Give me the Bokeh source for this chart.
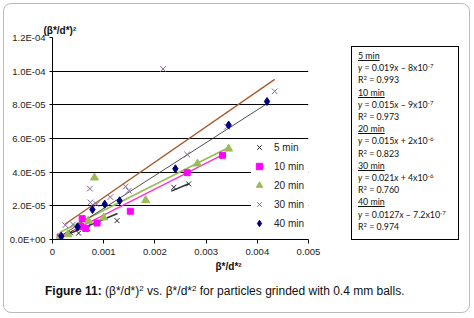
from bokeh.plotting import figure
from bokeh.layouts import column, row
from bokeh.models import (Range1d, FixedTicker, CustomJSTickFormatter, Title, Div)
from bokeh.embed import file_html
from bokeh.resources import INLINE

# ---------------- data ----------------
x_5 = [0.00015, 0.00035, 0.00051, 0.00068, 0.00126, 0.00237, 0.00266]
y_5 = [1.5e-6, 4.0e-6, 3.8e-6, 6.5e-6, 1.12e-5, 3.1e-5, 3.3e-5]

x_10 = [0.00015, 0.00055, 0.00058, 0.00065, 0.00087, 0.00152, 0.00263, 0.00332]
y_10 = [1.5e-6, 7.9e-6, 1.24e-5, 6.5e-6, 9.8e-6, 1.68e-5, 3.97e-5, 5.0e-5]

x_20 = [0.00015, 0.00030, 0.00070, 0.00082, 0.00100, 0.00182, 0.00283, 0.00344]
y_20 = [1.5e-6, 3.0e-6, 1.1e-5, 3.67e-5, 1.3e-5, 2.33e-5, 4.5e-5, 5.39e-5]

x_30 = [0.00025, 0.00040, 0.00073, 0.00074, 0.00086, 0.00113, 0.00143, 0.00149,
        0.00216, 0.00263, 0.00341, 0.00434]
y_30 = [8.5e-6, 9.0e-6, 3.02e-5, 2.2e-5, 2.1e-5, 2.52e-5, 3.15e-5, 2.9e-5,
        1.013e-4, 5.05e-5, 6.7e-5, 8.8e-5]

x_40 = [0.00017, 0.00049, 0.00078, 0.00102, 0.00131, 0.00240, 0.00344, 0.00419]
y_40 = [2.0e-6, 7.5e-6, 1.78e-5, 2.1e-5, 2.3e-5, 4.2e-5, 6.8e-5, 8.2e-5]

# trend lines as drawn (slope, intercept)
trend_5 = (0.0127, -7.2e-7)
trend_5_visible = [(0.00015, 0.00127), (0.00232, 0.00266)]
trend_10 = (0.0154, -9e-7)
trend_20 = (0.0153, 2e-6)
trend_30 = (0.021, 4e-6)
trend_40 = (0.0195, -1e-6)

series_labels = ["5 min", "10 min", "20 min", "30 min", "40 min"]

y_ticks = [0, 2e-5, 4e-5, 6e-5, 8e-5, 1.0e-4, 1.2e-4]
x_ticks = [0, 0.001, 0.002, 0.003, 0.004, 0.005]

eq_slopes = ["0.019", "0.015", "0.015", "0.021", "0.0127"]
eq_signs = ["\u2013", "\u2013", "+", "+", "\u2013"]
eq_consts = ["8", "9", "2", "4", "7.2"]
eq_exps = ["-7", "-7", "-6", "-6", "-7"]
eq_r2 = ["0.993", "0.973", "0.823", "0.760", "0.974"]

caption_bold = "Figure 11:"
y_title = "(\u03b2*/d*)\u00b2"
x_title = "\u03b2*/d*\u00b2"

# ---------------- figure ----------------
FONT = "Liberation Sans"

p = figure(width=340, height=280, output_backend="svg", toolbar_location=None,
           x_range=Range1d(0, 0.005), y_range=Range1d(0, 1.2e-4),
           min_border_left=52, min_border_right=32, min_border_top=37,
           min_border_bottom=41, title=None)
p.outline_line_color = None
p.background_fill_color = "white"
p.border_fill_color = "white"
p.xgrid.visible = False
p.ygrid.grid_line_color = "black"
p.ygrid.grid_line_width = 1
p.ygrid.grid_line_alpha = 1

p.yaxis.ticker = FixedTicker(ticks=y_ticks)
p.xaxis.ticker = FixedTicker(ticks=x_ticks)
p.yaxis.formatter = CustomJSTickFormatter(code="""
const s = tick.toExponential(1).split('e');
const ex = parseInt(s[1]);
const sign = ex < 0 ? '-' : '+';
const a = Math.abs(ex);
return s[0] + 'E' + sign + (a < 10 ? '0' + a : '' + a);
""")
p.xaxis.formatter = CustomJSTickFormatter(code="""
return tick === 0 ? '0' : tick.toFixed(3);
""")
for ax in (p.xaxis, p.yaxis):
    ax.axis_line_color = "black"
    ax.axis_line_width = 1
    ax.major_tick_line_color = "black"
    ax.major_tick_in = 0
    ax.minor_tick_line_color = None
    ax.major_label_text_font = FONT
    ax.major_label_text_font_size = "9.5px"
    ax.major_label_text_color = "#222222"
p.yaxis.major_tick_out = 3
p.xaxis.major_tick_out = 4
p.yaxis.major_label_standoff = 4
p.xaxis.major_label_standoff = 5

# axis titles (y title sits above the plot area, pushed down by a blank spacer title)
p.add_layout(Title(text=y_title, align="left", offset=-9, text_font=FONT,
                   text_font_size="10px", text_font_style="bold", text_color="#111111",
                   standoff=4), "above")
p.add_layout(Title(text=" ", align="left", text_font=FONT, text_font_size="10px",
                   standoff=3), "above")
p.add_layout(Title(text=x_title, align="left", offset=163, text_font=FONT,
                   text_font_size="10px", text_font_style="bold", text_color="#111111",
                   standoff=2), "below")

# ---------------- trend lines ----------------
def line_pts(xs, coef):
    lo, hi = min(xs), max(xs)
    return [lo, hi], [coef[0] * lo + coef[1], coef[0] * hi + coef[1]]

xs5 = [[a, b] for a, b in trend_5_visible]
ys5 = [[trend_5[0] * a + trend_5[1], trend_5[0] * b + trend_5[1]] for a, b in trend_5_visible]
p.multi_line(xs5, ys5, line_color="#333333", line_width=1.6)

lx, ly = line_pts(x_10, trend_10)
p.line(lx, ly, line_color="#FF33CC", line_width=1.5)
lx, ly = line_pts(x_20, trend_20)
p.line(lx, ly, line_color="#9BBB59", line_width=1.8)
lx, ly = line_pts(x_30, trend_30)
p.line(lx, ly, line_color="#A8582A", line_width=1.3)
lx, ly = line_pts(x_40, trend_40)
p.line(lx, ly, line_color="#222222", line_width=0.8)

# ---------------- markers ----------------
p.scatter(x_5, y_5, marker="x", size=7, line_color="#222222", line_width=1,
          legend_label=series_labels[0])
p.scatter(x_10, y_10, marker="square", size=6, fill_color="#FF00FF", line_color="#FF00FF",
          legend_label=series_labels[1])
p.scatter(x_20, y_20, marker="triangle", size=8, fill_color="#9BBB59", line_color="#9BBB59",
          legend_label=series_labels[2])
p.scatter(x_30, y_30, marker="x", size=8, line_color="#8064A2", line_width=1,
          legend_label=series_labels[3])
p.scatter(x_40, y_40, marker="diamond", size=8, fill_color="#000080", line_color="#000080",
          legend_label=series_labels[4])

lg = p.legend[0]
lg.location = (199, 8)
lg.background_fill_color = "white"
lg.background_fill_alpha = 1
lg.border_line_color = None
lg.padding = 4
lg.margin = 0
lg.spacing = 3
lg.glyph_width = 16
lg.glyph_height = 16
lg.label_height = 16
lg.label_width = 42
lg.label_standoff = 7
lg.label_text_font = FONT
lg.label_text_font_size = "10px"
lg.label_text_color = "#222222"

# ---------------- equation box ----------------
sup = '<span style="font-size:6px;vertical-align:3px;line-height:0">{}</span>'
lines_html = []
for i, name in enumerate(series_labels):
    lines_html.append('<div><u>{}</u></div>'.format(name))
    lines_html.append('<div><i>y</i> = {}<i>x</i> {} {}x10{}</div>'.format(
        eq_slopes[i], eq_signs[i], eq_consts[i], sup.format(eq_exps[i])))
    lines_html.append('<div>R{} = {}</div>'.format(sup.format("2"), eq_r2[i]))

eq_div = Div(width=134, height=280, margin=0, text=(
    '<div style="padding:46px 0 0 11px;margin:0;">'
    '<div style="width:108px;height:194px;box-sizing:border-box;border:1px solid #000;'
    'padding:3px 0 0 6px;font-family:Lato,sans-serif;font-size:8.8px;line-height:12.2px;'
    'color:#111;white-space:nowrap;">' + "".join(lines_html) + '</div></div>'))

sup_cap = '<span style="font-size:8px;vertical-align:4px;line-height:0">2</span>'
cap_div = Div(width=474, height=38, margin=0, text=(
    '<div style="padding:4px 0 0 45px;margin:0;font-family:\'Liberation Sans\',Arial,sans-serif;'
    'font-size:12px;line-height:14px;color:#111;white-space:nowrap;">'
    '<b>' + caption_bold + '</b> (\u03b2*/d*)' + sup_cap
    + ' vs. \u03b2*/d*' + sup_cap
    + ' for particles grinded with 0.4 mm balls.</div>'))

frame_css = (":host::after{content:'';position:absolute;left:3px;top:3px;width:467px;"
             "height:310px;border:1.5px solid #BBBBBB;border-radius:8px;"
             "box-sizing:border-box;pointer-events:none;z-index:10;}")

layout = column(row(p, eq_div, spacing=0), cap_div, spacing=0,
                styles={"position": "relative"}, stylesheets=[frame_css])

open("out.html", "w").write(file_html(layout, INLINE))
